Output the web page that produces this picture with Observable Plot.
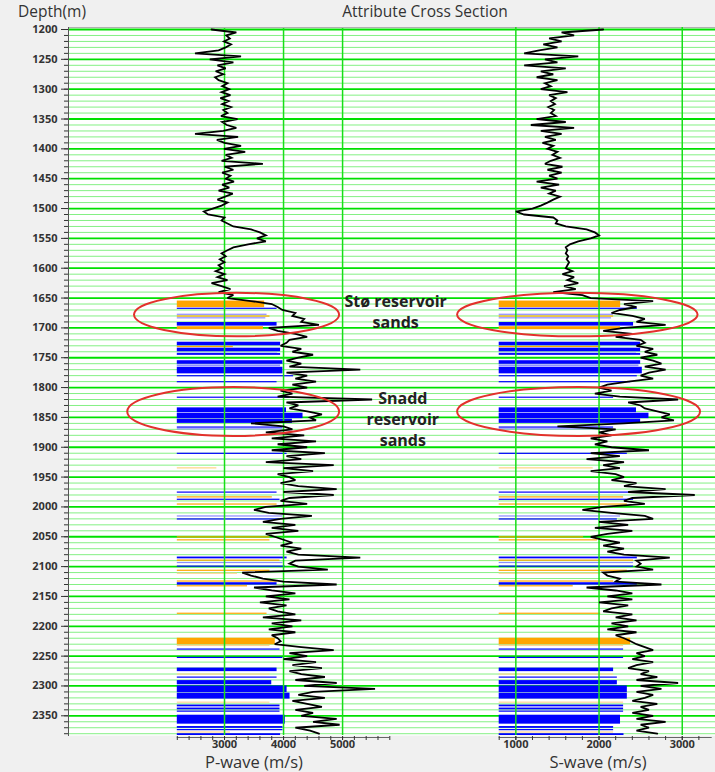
<!DOCTYPE html>
<html>
<head>
<meta charset="utf-8">
<script src="https://cdn.jsdelivr.net/npm/d3@7"></script>
<script src="https://cdn.jsdelivr.net/npm/@observablehq/plot@0.6"></script>
<style>
  html, body { margin: 0; padding: 0; background: #f0f0f0; }
  #chart { position: relative; width: 715px; height: 772px; overflow: hidden; font-family: "Open Sans", sans-serif; color: #333; }
  #chart svg { position: absolute; left: 0; top: 0; }
  .hdr { position: absolute; top: 2px; font-size: 15.5px; line-height: 18px; white-space: nowrap; z-index: 2; }
  .xlab { position: absolute; top: 754px; font-size: 16.5px; line-height: 16px; white-space: nowrap; transform: translateX(-50%); z-index: 2; }
</style>
</head>
<body>
<div id="chart">
  <div class="hdr" style="left:18px">Depth(m)</div>
  <div class="hdr" style="left:425px;transform:translateX(-50%)">Attribute Cross Section</div>
  <div class="xlab" style="left:254px">P-wave (m/s)</div>
  <div class="xlab" style="left:598px">S-wave (m/s)</div>
</div>
<script>
// ---- Log samples: depth (m) every 5 m, P-wave and S-wave velocity (m/s) ----
const depthSamples = d3.range(1200, 2381, 5);

const vpLog = [
  2780, 3200, 3030, 3090, 2990, 3110, 3020, 2900, 2500, 3280,
  2750, 3150, 2880, 3020, 2850, 2980, 2840, 2900, 3050, 2960,
  3080, 2950, 3100, 2930, 3070, 2960, 3110, 2980, 3050, 2940,
  3220, 2960, 3040, 3200, 2980, 2500, 3230, 2870, 3000, 3280,
  2990, 3350, 3020, 3120, 2950, 3650, 3000, 3150, 2960, 3100,
  3020, 3160, 2960, 3080, 2900, 3140, 3010, 2880, 3050, 2950,
  2800, 2650, 2720, 3000, 2950, 3050, 3150, 3450, 3600, 3700,
  3550, 3700, 3400, 3150, 3050, 2950, 3020, 2920, 3000, 2900,
  2960, 2850, 3000, 2880, 3050, 2780, 2950, 3100, 2900, 3150,
  3050, 3450, 3800, 3900, 3980, 4200, 4150, 4350, 4300, 4600,
  3750, 3900, 4200, 4400, 4100, 4050, 3950, 4300, 4150, 4500,
  4250, 4050, 4300, 4100, 5300, 4050, 4400, 4200, 4550, 4150,
  4400, 3950, 4150, 3900, 5500, 4050, 4250, 4100, 4400, 4650,
  4450, 4550, 3450, 4000, 4150, 3700, 4350, 3800, 4550, 3900,
  4400, 3800, 4700, 4050, 4300, 3700, 4850, 4000, 4500, 3900,
  4100, 4200, 3950, 4250, 4900, 4000, 4850, 4100, 3950, 4400,
  3700, 3500, 3750, 4480, 3950, 3650, 4200, 3800, 4250, 3700,
  3850, 4000, 4150, 3950, 4300, 4050, 4250, 5300, 4200, 4100,
  4250, 4750, 3300, 3450, 3650, 4000, 4900, 3500, 3800, 4200,
  3700, 4100, 3600, 4050, 3750, 3900, 4200, 3650, 4300, 3800,
  4150, 3750, 4200, 3800, 3900, 3950, 3850, 4300, 4850, 4100,
  4400, 4000, 4550, 4150, 4650, 4100, 4300, 4700, 4200, 4900,
  4350, 5550, 4500, 4250, 4700, 4150, 4400, 4650, 4200, 4500,
  4300, 4900, 4500, 4950, 4200, 4450, 4600
];

const vsLog = [
  2050, 1550, 1700, 1400, 1550, 1330, 1500, 1280, 1100, 1750,
  1350, 1500, 1100, 1600, 1300, 1450, 1250, 1500, 1350, 1420,
  1300, 1620, 1400, 1480, 1420, 1470, 1390, 1460, 1420, 1480,
  1250, 1600, 1180, 1700, 1300, 1550, 1350, 1480, 1320, 1450,
  1380, 1500, 1440, 1530, 1420, 1350, 1560, 1380, 1550, 1400,
  1500, 1250, 1520, 1300, 1480, 1400, 1530, 1450, 1380, 1300,
  1200, 1000, 1100, 1450, 1500, 1480, 1600, 1850, 1950, 2000,
  1900, 1750, 1650, 1600, 1620, 1600, 1630, 1610, 1640, 1620,
  1600, 1680, 1560, 1700, 1620, 1750, 1580, 1720, 1450, 1800,
  1900, 2650, 2300, 2450, 2250, 2150, 2400, 2550, 2450, 2800,
  2300, 2050, 2400, 2200, 2500, 2550, 2450, 2650, 2550, 2700,
  2500, 2650, 2750, 2550, 2800, 2600, 2500, 2650, 2350, 2100,
  2000, 2150, 1950, 2250, 2950, 2350, 2500, 2550, 2700, 2850,
  2750, 2900, 2300, 1500, 2200, 2000, 2150, 1900, 2100, 1950,
  2150, 2600, 1900, 2250, 1850, 2300, 2050, 2250, 1900, 2200,
  2300, 2150, 2450, 2300, 2800, 2350, 3150, 2400, 2300, 2550,
  2050, 1800, 2150, 2550, 2650, 2000, 2350, 1950, 2400, 2100,
  1900, 2050, 2250, 2050, 2300, 2100, 2300, 2850, 2450, 2500,
  2450, 2650, 2050, 2100, 2250, 2200, 2750, 1850, 2200, 2400,
  2100, 2400, 2000, 2350, 2150, 2050, 2400, 2200, 2450, 2150,
  2350, 2100, 2450, 2200, 2300, 2380, 2450, 2550, 2650, 2450,
  2550, 2400, 2650, 2450, 2350, 2600, 2500, 2700, 2450, 2950,
  2500, 2750, 2450, 2650, 2550, 2400, 2700, 2500, 2600, 2400,
  2650, 2450, 2800, 2500, 2600, 2450, 2700
];

// ---- Facies intervals: top (m), base (m), class, Vp at fill edge, Vs at fill edge ----
// O = sand (orange), B = shale (blue), L = silty shale (light blue), Y = shaly sand (pale orange)
const faciesIntervals = [
  [1655, 1666, "O", 3680, 2260], [1667, 1669, "B", 3890, 2460],
  [1677, 1679, "L", 3720, 2175], [1680, 1682, "O", 3770, 2175],
  [1683, 1685, "L", 3700, 2150], [1691, 1697, "B", 3890, 2415],
  [1698, 1703, "O", 3660, 2258],
  [1724, 1730, "B", 3950, 2500], [1731, 1733, "O", 3150, 2020],
  [1734, 1740, "B", 3950, 2500], [1741, 1742, "L", 3900, 2450],
  [1743, 1746, "B", 3950, 2500],
  [1755, 1761, "B", 3990, 2500], [1762, 1765, "L", 3950, 2480],
  [1766, 1777, "B", 3990, 2520], [1780, 1782, "B", 4170, 2460],
  [1790, 1792, "B", 3890, 2380], [1816, 1818, "B", 4110, 2175],
  [1834, 1842, "B", 4050, 2450], [1843, 1852, "B", 4330, 2600],
  [1853, 1860, "B", 4150, 2500], [1866, 1868, "B", 3990, 2175],
  [1869, 1871, "L", 3990, 2175], [1910, 1912, "B", 4060, 2340],
  [1935, 1936, "O", 2870, 1930],
  [1975, 1977, "B", 3890, 2460], [1983, 1985, "O", 3810, 2295],
  [1987, 1989, "B", 3940, 2415], [1995, 1997, "O", 3890, 2340],
  [2015, 2017, "L", 3990, 2258], [2020, 2022, "B", 3940, 2220],
  [2050, 2052, "O", 3770, 1815], [2055, 2057, "O", 3770, 1980],
  [2084, 2087, "B", 4060, 2460], [2089, 2091, "O", 3940, 2415],
  [2093, 2095, "L", 3990, 2415], [2099, 2101, "B", 4030, 2415],
  [2106, 2108, "O", 3770, 2340], [2111, 2113, "Y", 3220, 2020],
  [2124, 2126, "O", 3890, 2175], [2127, 2131, "B", 3890, 2460],
  [2132, 2134, "O", 3390, 1690], [2178, 2180, "O", 3720, 2020],
  [2220, 2231, "O", 3860, 2380], [2232, 2234, "Y", 3770, 2295],
  [2238, 2240, "B", 3940, 2295], [2252, 2254, "B", 3990, 2295],
  [2270, 2276, "B", 3890, 2175], [2280, 2282, "Y", 3770, 2175],
  [2285, 2287, "B", 3890, 2220], [2291, 2298, "B", 3800, 2220],
  [2300, 2311, "B", 4060, 2340], [2312, 2322, "B", 4110, 2340],
  [2327, 2329, "Y", 3770, 2295], [2332, 2335, "B", 3940, 2295],
  [2337, 2340, "B", 3940, 2295], [2342, 2344, "B", 3940, 2295],
  [2349, 2364, "B", 4030, 2258], [2368, 2371, "B", 3990, 2175],
  [2373, 2375, "B", 3990, 2175], [2377, 2379, "Y", 3100, 2175],
  [2380, 2383, "B", 3950, 2300]
];
const faciesColors = { O: "#ffa500", B: "#0000ff", L: "#8c8cff", Y: "#ffd592" };

// ---- Reservoir zones: name, top, base, Vp left/right, Vs left/right (ellipse bounds) ----
const reservoirZones = [
  ["Stø", 1642, 1715, 1475, 4950, 300, 3190],
  ["Snadd", 1800, 1882, 1360, 4950, 300, 3220]
];
const zoneLabels = ["Stø reservoir\nsands", "Snadd\nreservoir\nsands"];
const zoneLabelDepths = [1671, 1852];
const zoneLabelVp = [5900, 6020];

// ---- Axes and grid ----
const depthDomain = [1200, 2383];
const depthMajor = d3.range(1200, 2351, 50);
const depthMinor = d3.range(1200, 2381, 10);
const depthMinorOnly = depthMinor.filter(d => d % 50 !== 0);
const vpDomain = [2200, 5800];
const vsDomain = [800, 3360];
const vpMajor = [3000, 4000, 5000];
const vsMajor = [1000, 2000, 3000];
const vpMinor = d3.range(2200, 5801, 200);
const vsMinor = d3.range(800, 3201, 200);

const logRows = depthSamples.map((depth, i) => ({ depth, vp: vpLog[i], vs: vsLog[i] }));
const faciesRows = faciesIntervals.map(([top, base, kind, vp, vs]) => ({ top, base, color: faciesColors[kind], vp, vs }));
const labelRows = zoneLabels.map((text, i) => ({ text, depth: zoneLabelDepths[i], vp: zoneLabelVp[i] }));

const frame = { width: 715, height: 772, marginTop: 27, marginBottom: 37, marginLeft: 68, marginRight: 0 };
const yScale = { domain: depthDomain, range: [29, 735] };
const gridGreen = "#18df18";
const plain = d => String(d);
const logStyle = { stroke: "#000", strokeWidth: 1.8, strokeLinejoin: "miter", strokeMiterlimit: 3 };

const pPlot = Plot.plot({
  ...frame,
  style: { background: "transparent", fontFamily: "Open Sans, sans-serif", color: "#333", overflow: "visible" },
  x: { domain: vpDomain, range: [176.8, 389.3] },
  y: yScale,
  color: { type: "identity" },
  marks: [
    Plot.frame({ fill: "white" }),
    Plot.ruleY(depthMinorOnly, { stroke: "#84f084", strokeWidth: 1 }),
    Plot.ruleY(depthMajor, { stroke: "#00e000", strokeWidth: 1.8 }),
    Plot.rect(faciesRows, { x1: () => vpDomain[0], x2: "vp", y1: "top", y2: "base", fill: "color" }),
    Plot.ruleX(vpMajor, { stroke: gridGreen, strokeWidth: 1.5 }),
    Plot.line(logRows, { x: "vp", y: "depth", ...logStyle }),
    Plot.text(labelRows, { x: "vp", y: "depth", text: "text", fontWeight: "bold", fontSize: 16, lineHeight: 1.3, fill: "#222" }),
    Plot.frame({ anchor: "top", stroke: "#b0b0b0" }),
    Plot.frame({ anchor: "left", stroke: "#555" }),
    Plot.axisY({ ticks: depthMajor, tickSize: 7, tickPadding: 4, tickFormat: plain, fontWeight: "bold", fontSize: 11, label: null }),
    Plot.axisY({ ticks: depthMinor, tickSize: 4, tickFormat: () => "", label: null }),
    Plot.ruleY([depthDomain[1]], { x1: () => vpDomain[0], x2: () => vpDomain[1], stroke: "#666", dy: 2 }),
    Plot.axisX({ ticks: vpMinor, tickSize: 4, tickFormat: () => "", label: null, dy: 1 }),
    Plot.axisX({ ticks: vpMajor, tickSize: 4, tickPadding: 0, tickFormat: plain, fontWeight: "bold", fontSize: 11, label: null, dy: 1 })
  ]
});

const sPlot = Plot.plot({
  ...frame,
  style: { background: "transparent", fontFamily: "Open Sans, sans-serif", color: "#333", overflow: "visible" },
  x: { domain: vsDomain, range: [498.7, 711.7] },
  y: { ...yScale, axis: null },
  color: { type: "identity" },
  marks: [
    Plot.rect(faciesRows, { x1: () => vsDomain[0], x2: "vs", y1: "top", y2: "base", fill: "color" }),
    Plot.ruleX(vsMajor, { stroke: gridGreen, strokeWidth: 1.5 }),
    Plot.line(logRows, { x: "vs", y: "depth", ...logStyle }),
    Plot.ruleY([depthDomain[1]], { x1: () => vsDomain[0], x2: () => vsDomain[1], stroke: "#666", dy: 2 }),
    Plot.axisX({ ticks: vsMinor, tickSize: 4, tickFormat: () => "", label: null, dy: 1 }),
    Plot.axisX({ ticks: vsMajor, tickSize: 4, tickPadding: 0, tickFormat: plain, fontWeight: "bold", fontSize: 11, label: null, dy: 1 })
  ]
});

// Outline the reservoir zones with ellipses placed through each track's scales
function outlineZones(plot, leftIdx, rightIdx) {
  const svg = plot.tagName.toLowerCase() === "svg" ? plot : plot.querySelector("svg");
  const x = plot.scale("x"), y = plot.scale("y");
  const g = d3.select(svg).append("g").attr("fill", "none").attr("stroke", "#e3312c").attr("stroke-width", 2);
  for (const z of reservoirZones) {
    const x1 = x.apply(z[leftIdx]), x2 = x.apply(z[rightIdx]);
    const y1 = y.apply(z[1]), y2 = y.apply(z[2]);
    g.append("ellipse")
      .attr("cx", (x1 + x2) / 2).attr("cy", (y1 + y2) / 2)
      .attr("rx", Math.abs(x2 - x1) / 2).attr("ry", Math.abs(y2 - y1) / 2);
  }
}
outlineZones(pPlot, 3, 4);
outlineZones(sPlot, 5, 6);

const chart = document.getElementById("chart");
chart.prepend(sPlot);
chart.prepend(pPlot);
</script>
</body>
</html>
